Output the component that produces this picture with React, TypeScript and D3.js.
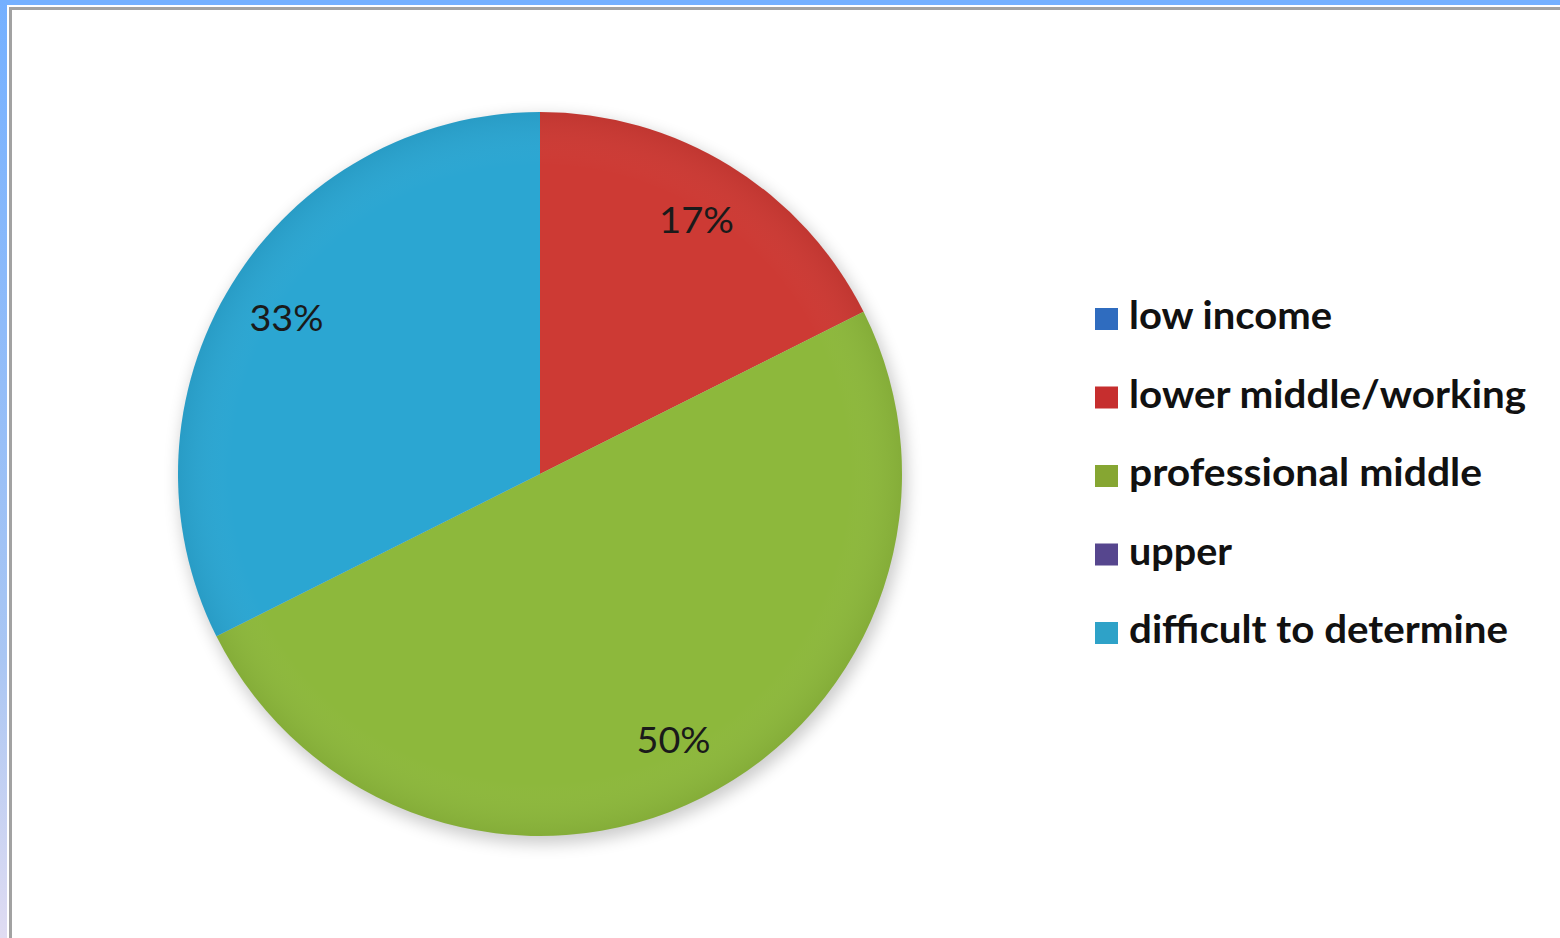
import React from "react";
import * as d3 from "d3";

const categories = ["low income", "lower middle/working", "professional middle", "upper", "difficult to determine"];
// slice sizes (angles), labels as printed
const values = [0, 17.6, 50, 0, 32.4];
const labels = ["", "17%", "50%", "", "33%"];
const sliceColors = ["#3f78c4", "#cd3a34", "#8db83c", "#6a55a0", "#2ba6d2"];
const legendColors = ["#2f6cbf", "#c62e2e", "#86a632", "#56468e", "#2ea2c8"];
const legendWidths = [203, 397, 353, 103, 379];
const labelWidths = [0, 75, 74, 0, 74];

const W = 1560;
const H = 938;
const cx = 540;
const cy = 474;
const R = 362;
const LR = 298;

export default function App() {
  const pie = d3.pie<number>().sort(null).value((d) => d);
  const arcs = pie(values);
  const arcGen = d3.arc<d3.PieArcDatum<number>>().innerRadius(0).outerRadius(R);
  const labelArc = d3.arc<d3.PieArcDatum<number>>().innerRadius(LR * 2 - R).outerRadius(R);
  const legendY = d3.scaleLinear().domain([0, 4]).range([318, 632]);

  return (
    <svg width={W} height={H} style={{ position: "absolute", left: 0, top: 0, display: "block" }}>
      <defs>
        <filter id="sh" x="-20%" y="-20%" width="140%" height="140%">
          <feGaussianBlur stdDeviation="8" />
        </filter>
        <linearGradient id="leftband" x1="0" y1="0" x2="0" y2="1">
          <stop offset="0" stopColor="#74b0ff" />
          <stop offset="0.7" stopColor="#a9c6f3" />
          <stop offset="1" stopColor="#e0dcf2" />
        </linearGradient>
        <radialGradient id="shade" cx="0.5" cy="0.5" r="0.5">
          <stop offset="0" stopColor="#fff" stopOpacity={0} />
          <stop offset="0.85" stopColor="#fff" stopOpacity={0} />
          <stop offset="1" stopColor="#000" stopOpacity={0.06} />
        </radialGradient>
      </defs>
      <rect x={0} y={0} width={W} height={H} fill="#ffffff" />
      {/* frame */}
      <rect x={0} y={0} width={W} height={5} fill="#74b0ff" />
      <rect x={0} y={0} width={7} height={H} fill="url(#leftband)" />
      <rect x={9} y={7} width={W - 9} height={3} fill="#a2a2a2" />
      <rect x={9} y={7} width={3} height={H - 7} fill="#a2a2a2" />
      {/* shadow */}
      <circle cx={cx + 3} cy={cy + 6} r={R + 2} fill="#000" opacity={0.2} filter="url(#sh)" />
      <g transform={`translate(${cx},${cy})`}>
        {arcs.map((a, i) =>
          a.value > 0 ? <path key={i} d={arcGen(a) || ""} fill={sliceColors[i]} /> : null
        )}
        <circle r={R} fill="url(#shade)" />
        {arcs.map((a, i) => {
          if (a.value <= 0) return null;
          const [x, y] = labelArc.centroid(a);
          return (
            <text
              key={"l" + i}
              x={x - labelWidths[i] / 2}
              y={y + 13}
              textLength={labelWidths[i]}
              lengthAdjust="spacingAndGlyphs"
              fontFamily="Lato, 'Open Sans', sans-serif"
              fontSize={37}
              fill="#1a1a1a"
            >
              {labels[i]}
            </text>
          );
        })}
      </g>
      {categories.map((c, i) => (
        <g key={c}>
          <rect x={1095} y={legendY(i) - 10} width={23} height={22} fill={legendColors[i]} />
          <text
            x={1129}
            y={legendY(i) + 11}
            textLength={legendWidths[i]}
            lengthAdjust="spacingAndGlyphs"
            fontFamily="Lato, 'Open Sans', sans-serif"
            fontWeight={700}
            fontSize={39}
            fill="#111"
          >
            {c}
          </text>
        </g>
      ))}
    </svg>
  );
}
